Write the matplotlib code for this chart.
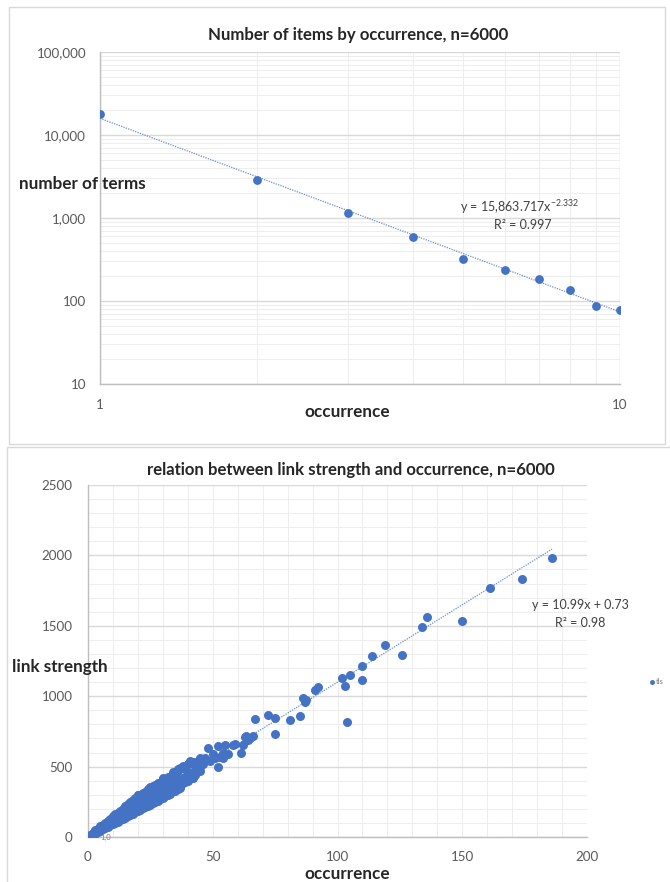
import matplotlib
matplotlib.use("Agg")
import matplotlib.pyplot as plt
from matplotlib.patches import Rectangle
from matplotlib.ticker import FixedLocator, NullFormatter, FuncFormatter
import numpy as np

plt.rcParams['font.family'] = ['Lato', 'DejaVu Sans']
plt.rcParams['mathtext.fontset'] = 'custom'
plt.rcParams['mathtext.rm'] = 'Lato'

# ---------------- data: top chart ----------------
top_title = "Number of items by occurrence, n=6000"
top_occurrence = [1, 2, 3, 4, 5, 6, 7, 8, 9, 10]
top_terms = [17900, 2870, 1150, 590, 320, 236, 184, 136, 87, 78]
power_coef = 15863.717
power_exp = -2.332
top_r2 = 0.997
top_yticks = [10, 100, 1000, 10000, 100000]
top_xticks = [1, 10]

# ---------------- data: bottom chart ----------------
bot_title = "relation between link strength and occurrence, n=6000"
series_name = "tls"
cluster_x = [1, 1, 1, 2, 2, 2, 3, 3, 3, 4, 4, 4, 5, 5, 5, 6, 6, 6, 7, 7, 7,
             8, 8, 8, 9, 9, 9, 10, 10, 10, 11, 11, 11, 12, 12, 12, 13, 13, 13,
             14, 14, 14, 15, 15, 15, 16, 16, 16, 17, 17, 17, 18, 18, 18,
             19, 19, 19, 20, 20, 20, 21, 21, 21, 22, 22, 22, 23, 23, 23,
             24, 24, 24, 25, 25, 25, 26, 26, 26, 27, 27, 27, 28, 28, 28,
             29, 29, 29, 30, 30, 30, 31, 31, 31, 32, 32, 32, 33, 33, 33,
             34, 34, 34, 35, 35, 35, 36, 36, 36, 37, 37, 37, 38, 38, 38,
             39, 39, 39, 40, 40, 40, 41, 41, 41, 42, 42, 42, 43, 43, 43,
             44, 44, 44, 45, 45, 45]
cluster_y = [3, 10, 16, 14, 22, 30, 24, 33, 42, 34, 44, 55, 45, 55, 66, 55, 66, 78,
             63, 77, 90, 74, 88, 102, 83, 99, 114, 92, 110, 127, 100, 121, 140,
             110, 132, 152, 120, 143, 165, 128, 154, 178, 138, 165, 190,
             148, 176, 204, 155, 187, 216, 166, 198, 235, 175, 209, 280,
             184, 220, 295, 195, 231, 280, 205, 242, 300, 212, 253, 305,
             222, 264, 330, 230, 275, 345, 240, 286, 340, 250, 297, 350,
             258, 308, 365, 268, 318, 372, 275, 330, 420, 290, 341, 400,
             300, 352, 410, 305, 363, 425, 345, 374, 440, 330, 385, 450,
             340, 396, 470, 350, 407, 490, 380, 418, 500, 390, 429, 480,
             400, 440, 520, 440, 451, 540, 420, 462, 530, 440, 473, 510,
             490, 484, 540, 470, 495, 560]
upper_x = [3, 4, 5, 6, 7, 8, 9, 10, 11, 12, 13, 14, 15, 16, 17, 18, 19, 20,
           21, 22, 23, 24, 25, 26, 27, 28, 29, 30, 32, 34, 36, 38, 40]
upper_y = [48, 60, 75, 88, 100, 115, 130, 148, 160, 172, 188, 202, 220, 235,
           248, 262, 270, 300, 298, 315, 322, 340, 355, 362, 370, 385, 380,
           405, 425, 462, 480, 505, 515]
sparse_x = [46, 47, 48, 49, 50, 51, 52, 52, 53, 54, 54, 55, 56, 58, 59, 61.5,
            62, 63, 63.5, 64, 65, 66, 67, 72, 75, 75, 81, 85, 86, 87, 87.5, 91,
            92, 102, 103, 104, 105, 110, 110, 114, 119, 126, 134, 136, 150,
            161, 174, 186]
sparse_y = [520, 560, 632, 540, 590, 560, 645, 500, 570, 600, 560, 655, 590,
            653, 657, 596, 655, 712, 717, 688, 700, 719, 840, 863, 848, 734,
            833, 856, 989, 958, 972, 1045, 1062, 1126, 1069, 816, 1149, 1218,
            1112, 1282, 1362, 1291, 1490, 1566, 1537, 1767, 1835, 1984]
occurrence = cluster_x + upper_x + sparse_x
link_strength = cluster_y + upper_y + sparse_y
lin_slope = 10.99
lin_intercept = 0.73
bot_r2 = 0.98
trend_xmax = 186

blue = '#4472C4'
tick_col = '#595959'
grid_major = '#D9D9D9'
grid_minor = '#EEEEEE'
axis_col = '#BFBFBF'

W, H = 670, 882
fig = plt.figure(figsize=(W / 100, H / 100), dpi=100)

def fx(px):
    return px / W

def fy(py):
    return 1 - py / H

# panel borders
fig.add_artist(Rectangle((fx(9), fy(444)), fx(665 - 9), (444 - 7) / H,
                         transform=fig.transFigure, fill=False,
                         edgecolor='#D9D9D9', lw=1))
fig.add_artist(Rectangle((fx(7), fy(884)), fx(680 - 7), (884 - 447) / H,
                         transform=fig.transFigure, fill=False,
                         edgecolor='#D9D9D9', lw=1))

label_fs = 12.3
title_fs = 12.1
tick_fs = 9.6

# ---------------- top chart ----------------
ax1 = fig.add_axes([fx(100), fy(384), fx(520), 332 / H])
ax1.set_xscale('log')
ax1.set_yscale('log')
ax1.set_xlim(1, 10)
ax1.set_ylim(10, 100000)
ax1.set_axisbelow(True)
ax1.yaxis.set_major_locator(FixedLocator(top_yticks))
ax1.yaxis.set_minor_locator(FixedLocator([m * d for d in [10, 100, 1000, 10000] for m in range(2, 10)]))
ax1.xaxis.set_major_locator(FixedLocator(top_xticks))
ax1.xaxis.set_minor_locator(FixedLocator(list(range(2, 10))))
ax1.yaxis.set_major_formatter(FuncFormatter(lambda v, p: f"{int(v):,}"))
ax1.xaxis.set_major_formatter(FuncFormatter(lambda v, p: f"{int(v)}"))
ax1.yaxis.set_minor_formatter(NullFormatter())
ax1.xaxis.set_minor_formatter(NullFormatter())
ax1.grid(True, which='major', color=grid_major, lw=1.0)
ax1.grid(True, which='minor', color=grid_minor, lw=0.8)
ax1.tick_params(which='both', length=0, labelsize=tick_fs, colors=tick_col)
ax1.tick_params(axis='y', pad=10)
ax1.tick_params(axis='x', pad=11)
for s in ['top', 'right']:
    ax1.spines[s].set_visible(False)
for s in ['left', 'bottom']:
    ax1.spines[s].set_color(axis_col)
    ax1.spines[s].set_linewidth(1.0)

xs = np.linspace(1, 10, 200)
ax1.plot(xs, power_coef * xs ** power_exp, color=blue, lw=0.9, ls=(0, (1, 1)), alpha=0.8, zorder=2)
ax1.scatter(top_occurrence, top_terms, s=40, color=blue, zorder=3, linewidths=0)

fig.text(fx(358), fy(35), top_title, ha='center', va='center', fontsize=title_fs, fontweight='bold', color='#262626')
fig.text(fx(19), fy(184), "number of terms", ha='left', va='center', fontsize=label_fs, fontweight='bold', color='#262626')
fig.text(fx(347), fy(412), "occurrence", ha='center', va='center', fontsize=label_fs, fontweight='bold', color='#262626')
fig.text(fx(520), fy(207), r"y = 15,863.717x$^{" + f"{power_exp}" + r"}$", ha='center', va='center', fontsize=9, color='#404040')
fig.text(fx(523), fy(225), f"R² = {top_r2}", ha='center', va='center', fontsize=9, color='#404040')

# ---------------- bottom chart ----------------
ax2 = fig.add_axes([fx(88), fy(837), fx(499), 352 / H])
ax2.set_xlim(0, 200)
ax2.set_ylim(0, 2500)
ax2.set_axisbelow(True)
ax2.xaxis.set_major_locator(FixedLocator([0, 50, 100, 150, 200]))
ax2.xaxis.set_minor_locator(FixedLocator(list(range(10, 200, 10))))
ax2.yaxis.set_major_locator(FixedLocator([0, 500, 1000, 1500, 2000, 2500]))
ax2.yaxis.set_minor_locator(FixedLocator(list(range(100, 2500, 100))))
ax2.grid(True, axis='y', which='major', color=grid_major, lw=1.0)
ax2.grid(True, axis='y', which='minor', color=grid_minor, lw=0.8)
ax2.grid(True, axis='x', which='both', color=grid_minor, lw=0.8)
ax2.tick_params(which='both', length=0, labelsize=tick_fs, colors=tick_col)
ax2.tick_params(axis='y', pad=11)
ax2.tick_params(axis='x', pad=10)
for s in ['top', 'right']:
    ax2.spines[s].set_visible(False)
for s in ['left', 'bottom']:
    ax2.spines[s].set_color(axis_col)
    ax2.spines[s].set_linewidth(1.0)

tx = np.linspace(0, trend_xmax, 100)
ax2.plot(tx, lin_slope * tx + lin_intercept, color=blue, lw=0.9, ls=(0, (1, 1)), alpha=0.8, zorder=2)
ax2.scatter(occurrence, link_strength, s=42, color=blue, zorder=3, linewidths=0, label=series_name)
ax2.text(5, 0, "1,0", fontsize=5.5, color='#808080', ha='left', va='center', zorder=4)

fig.text(fx(351), fy(470), bot_title, ha='center', va='center', fontsize=title_fs, fontweight='bold', color='#262626')
fig.text(fx(12), fy(667), "link strength", ha='left', va='center', fontsize=label_fs, fontweight='bold', color='#262626')
fig.text(fx(347), fy(874), "occurrence", ha='center', va='center', fontsize=label_fs, fontweight='bold', color='#262626')
fig.text(fx(580), fy(605), f"y = {lin_slope}x + {lin_intercept}", ha='center', va='center', fontsize=9, color='#404040')
fig.text(fx(580), fy(623), f"R² = {bot_r2}", ha='center', va='center', fontsize=9, color='#404040')

fig.legend(loc='center left', bbox_to_anchor=(fx(649), fy(682)), bbox_transform=fig.transFigure,
           frameon=False, fontsize=5.5, markerscale=0.55, handletextpad=0.1, borderpad=0,
           borderaxespad=0, handlelength=0.8, labelcolor='#808080')

fig.savefig("out.png", dpi=100)
